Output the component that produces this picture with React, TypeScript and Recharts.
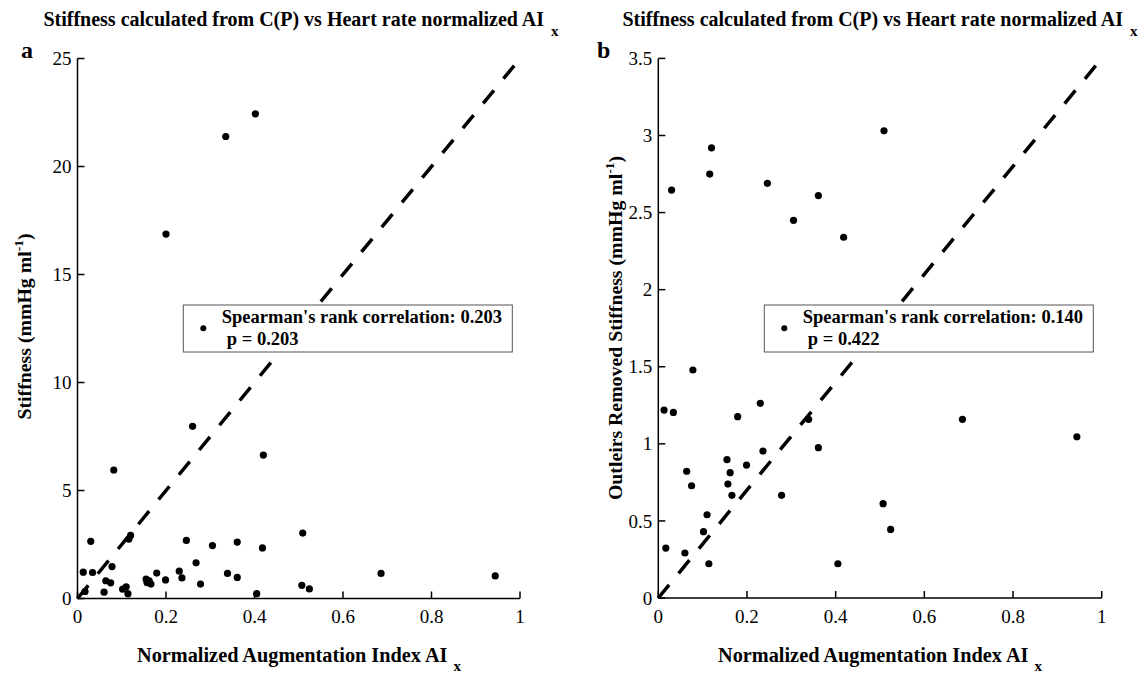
import { ScatterChart, Scatter, XAxis, YAxis, ReferenceLine } from "recharts";

// points kept after outlier removal (panel b), also shown in panel a
const keptAix = [
  0.03, 0.116, 0.12, 0.246, 0.305, 0.361, 0.418, 0.509, 0.013, 0.034, 0.078, 0.23,
  0.179, 0.339, 0.686, 0.944, 0.361, 0.236, 0.155, 0.199, 0.064, 0.162, 0.075,
  0.157, 0.166, 0.278, 0.507, 0.11, 0.524, 0.102, 0.017, 0.06, 0.114, 0.405, 0.268,
];
const keptStiffness = [
  2.646, 2.75, 2.92, 2.69, 2.45, 2.61, 2.34, 3.03, 1.219, 1.204, 1.479, 1.263,
  1.176, 1.159, 1.159, 1.046, 0.975, 0.953, 0.897, 0.862, 0.822, 0.813, 0.728,
  0.739, 0.666, 0.666, 0.612, 0.54, 0.445, 0.43, 0.324, 0.292, 0.222, 0.222, 1.65,
];
// outliers only in panel a
const outlierAix = [0.26, 0.42, 0.082, 0.2, 0.335, 0.402];
const outlierStiffness = [7.97, 6.64, 5.95, 16.87, 21.39, 22.44];

const xTicks = [0, 0.2, 0.4, 0.6, 0.8, 1];
const yTicksA = [0, 5, 10, 15, 20, 25];
const yTicksB = [0, 0.5, 1, 1.5, 2, 2.5, 3, 3.5];

const dataB = keptAix.map((x, i) => ({ x, y: keptStiffness[i] }));
const dataA = [
  ...dataB,
  ...outlierAix.map((x, i) => ({ x, y: outlierStiffness[i] })),
];

const FONT = "'Liberation Serif', 'Times New Roman', serif";

function YTick(props: any) {
  const { x, y, payload } = props;
  return (
    <g>
      <line x1={x} x2={x + 7} y1={y} y2={y} stroke="#000" strokeWidth={1.5} />
      <text x={x - 6} y={y} dy="0.35em" textAnchor="end" fontFamily={FONT} fontSize={19} fill="#000">
        {String(payload.value)}
      </text>
    </g>
  );
}

function XTick(props: any) {
  const { x, y, payload } = props;
  return (
    <g>
      <line x1={x} x2={x} y1={y} y2={y - 7} stroke="#000" strokeWidth={1.5} />
      <text x={x} y={y + 24.5} textAnchor="middle" fontFamily={FONT} fontSize={19} fill="#000">
        {String(payload.value)}
      </text>
    </g>
  );
}

const dot = (p: any) => <circle cx={p.cx} cy={p.cy} r={3.6} fill="#000" />;

function Panel(props: {
  data: { x: number; y: number }[];
  yMax: number;
  yTicks: number[];
  margin: { top: number; right: number; bottom: number; left: number };
}) {
  const { data, yMax, yTicks, margin } = props;
  return (
    <ScatterChart width={571} height={673} margin={margin}>
      <XAxis
        type="number"
        dataKey="x"
        domain={[0, 1]}
        ticks={xTicks}
        height={30}
        tickSize={0}
        tickMargin={0}
        tickLine={false}
        axisLine={{ stroke: "#000", strokeWidth: 1.5 }}
        tick={<XTick />}
        interval={0}
      />
      <YAxis
        type="number"
        dataKey="y"
        domain={[0, yMax]}
        ticks={yTicks}
        width={60}
        tickSize={0}
        tickMargin={0}
        tickLine={false}
        axisLine={{ stroke: "#000", strokeWidth: 1.5 }}
        tick={<YTick />}
        interval={0}
      />
      <ReferenceLine
        segment={[
          { x: 0, y: 0 },
          { x: 1, y: yMax },
        ]}
        stroke="#000"
        strokeWidth={3.5}
        strokeDasharray="17 15"
        ifOverflow="visible"
      />
      <Scatter data={data} shape={dot} isAnimationActive={false} />
    </ScatterChart>
  );
}

function Legend(props: { x: number; r: string; p: string }) {
  const { x, r, p } = props;
  return (
    <g fontFamily={FONT} fontWeight="bold" fontSize={18.5} fill="#000">
      <rect x={x} y={305} width={329} height={47} fill="#fff" stroke="#555" strokeWidth={1} />
      <circle cx={x + 20} cy={328.3} r={3} fill="#000" />
      <text x={x + 38.5} y={323.3}>Spearman's rank correlation: {r}</text>
      <text x={x + 43.5} y={345}>p = {p}</text>
    </g>
  );
}

function Title(props: { cx: number }) {
  return (
    <text x={props.cx} y={26} textAnchor="middle" fontFamily={FONT} fontWeight="bold" fontSize={20} fill="#000">
      Stiffness calculated from C(P) vs Heart rate normalized AI
      <tspan dx={7} dy={10} fontSize={15}>x</tspan>
    </text>
  );
}

function XLabel(props: { cx: number }) {
  return (
    <text x={props.cx} y={661.5} textAnchor="middle" fontFamily={FONT} fontWeight="bold" fontSize={20.3} fill="#000">
      Normalized Augmentation Index AI
      <tspan dx={6} dy={9} fontSize={15}>x</tspan>
    </text>
  );
}

function YLabel(props: { x: number; cy: number; text: string }) {
  return (
    <text
      transform={`translate(${props.x},${props.cy}) rotate(-90)`}
      textAnchor="middle"
      fontFamily={FONT}
      fontWeight="bold"
      fontSize={19.8}
      fill="#000"
    >
      {props.text} (mmHg ml
      <tspan dy={-8} fontSize={13.5}>-1</tspan>
      <tspan dy={8}>)</tspan>
    </text>
  );
}

export default function App() {
  return (
    <div style={{ position: "absolute", left: 0, top: 0, width: 1142, height: 673, background: "#fff" }}>
      <div style={{ position: "absolute", left: 0, top: 0 }}>
        <Panel data={dataA} yMax={25} yTicks={yTicksA} margin={{ top: 58.5, right: 51, bottom: 44.5, left: 17.5 }} />
      </div>
      <div style={{ position: "absolute", left: 571, top: 0 }}>
        <Panel data={dataB} yMax={3.5} yTicks={yTicksB} margin={{ top: 58.4, right: 40.3, bottom: 45, left: 27.3 }} />
      </div>
      <svg width={1142} height={673} style={{ position: "absolute", left: 0, top: 0, pointerEvents: "none" }}>
        <Title cx={301} />
        <Title cx={880} />
        <text x={21} y={58} fontFamily={FONT} fontWeight="bold" fontSize={24} fill="#000">a</text>
        <text x={597} y={58} fontFamily={FONT} fontWeight="bold" fontSize={24} fill="#000">b</text>
        <XLabel cx={299} />
        <XLabel cx={880} />
        <YLabel x={31} cy={326.5} text="Stiffness" />
        <YLabel x={622} cy={328} text="Outleirs Removed Stiffness" />
        <Legend x={183.3} r="0.203" p="0.203" />
        <Legend x={764.3} r="0.140" p="0.422" />
      </svg>
    </div>
  );
}
